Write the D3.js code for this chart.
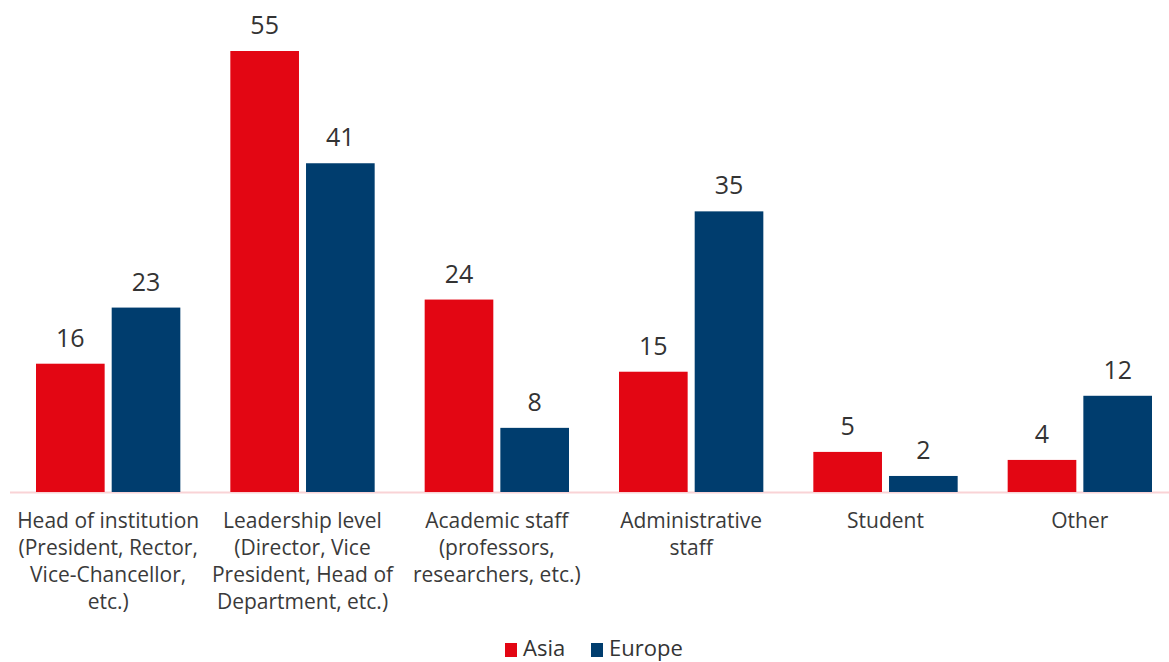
<!DOCTYPE html>
<html><head><meta charset="utf-8">
<script src="https://cdn.jsdelivr.net/npm/d3@7"></script>
<style>body{margin:0;background:#fff;} text{font-family:"Open Sans",sans-serif;}</style>
</head><body><svg id="c" width="1169" height="662"></svg>
<script>
const categories = [
  ["Head of institution","(President, Rector,","Vice-Chancellor,","etc.)"],
  ["Leadership level","(Director, Vice","President, Head of","Department, etc.)"],
  ["Academic staff","(professors,","researchers, etc.)"],
  ["Administrative","staff"],
  ["Student"],
  ["Other"]
];
const seriesNames = ["Asia","Europe"];
const asia = [16,55,24,15,5,4];
const europe = [23,41,8,35,2,12];
const colors = ["#e30613","#003d6e"];

const svg = d3.select("#c");
const baseY = 492, topY = 51;
const y = d3.scaleLinear().domain([0,55]).range([baseY, topY]);
const x0 = d3.scaleBand().domain(d3.range(categories.length)).range([11,1177]).paddingInner(0).paddingOuter(0);
const x1 = d3.scaleBand().domain(seriesNames).range([25, x0.bandwidth()-25]).paddingInner(0.093).paddingOuter(0);

svg.append("line").attr("x1",10).attr("x2",1169).attr("y1",baseY+0.5).attr("y2",baseY+0.5)
  .attr("stroke","#f9d3d6").attr("stroke-width",2);

const series = [asia, europe];
const g = svg.append("g");
categories.forEach((c,i)=>{
  series.forEach((s,j)=>{
    const xx = x0(i)+x1(seriesNames[j]);
    g.append("rect").attr("x",xx).attr("y",y(s[i])).attr("width",x1.bandwidth()).attr("height",baseY-y(s[i]))
      .attr("fill",colors[j]);
    g.append("text").attr("x",xx+x1.bandwidth()/2).attr("y",y(s[i])-17).attr("text-anchor","middle")
      .attr("font-size",25).attr("fill","#333").text(s[i]);
  });
  const t = g.append("text").attr("text-anchor","middle").attr("font-size",21).attr("fill","#3a3a3a");
  c.forEach((line,k)=>{
    t.append("tspan").attr("x",x0(i)+x0.bandwidth()/2).attr("y",528+k*27).text(line);
  });
});

// legend
const leg = svg.append("g");
const items = [{n:"Asia",x:505},{n:"Europe",x:591}];
items.forEach((it,j)=>{
  leg.append("rect").attr("x",it.x).attr("y",643).attr("width",12).attr("height",14).attr("fill",colors[j]);
  leg.append("text").attr("x",it.x+18).attr("y",656).attr("font-size",22).attr("fill","#333").text(it.n);
});
</script></body></html>
